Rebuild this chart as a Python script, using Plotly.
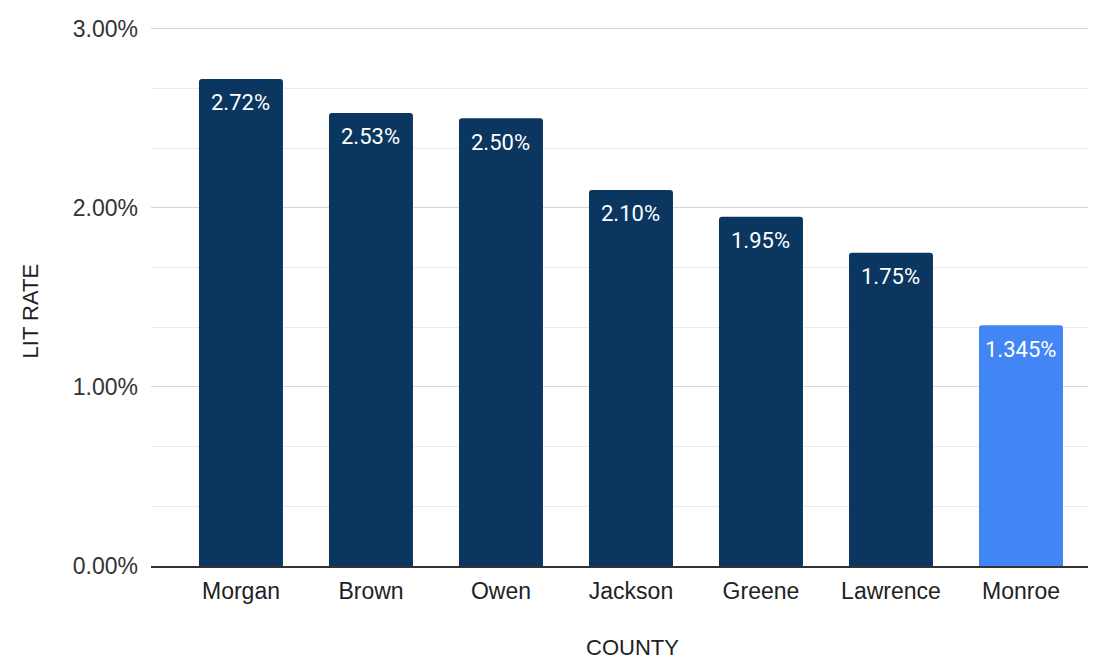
import plotly.graph_objects as go

counties = ["Morgan", "Brown", "Owen", "Jackson", "Greene", "Lawrence", "Monroe"]
lit_rate = [0.0272, 0.0253, 0.0250, 0.0210, 0.0195, 0.0175, 0.01345]
labels = ["2.72%", "2.53%", "2.50%", "2.10%", "1.95%", "1.75%", "1.345%"]
colors = ["#0b3660"] * 6 + ["#4285f4"]

# page body has an 8px margin; compensate so the picture lands like the reference
OFF = 8
W, H = 1096, 661
L, R, T, B = 151 - OFF, OFF, 24 - OFF, 661 - (566 - OFF)

fig = go.Figure(go.Bar(
    x=list(range(len(counties))),
    y=lit_rate,
    marker=dict(color=colors, line=dict(width=0), cornerradius=3),
    width=0.646,
    hoverinfo="skip",
))

for i, (v, lab) in enumerate(zip(lit_rate, labels)):
    fig.add_annotation(
        x=i, y=v, xref="x", yref="y",
        text=lab, showarrow=False,
        xanchor="center", yanchor="middle", yshift=-24,
        font=dict(family="Roboto", size=22, color="white"),
    )

fig.update_layout(
    width=W, height=H,
    margin=dict(l=L, r=R, t=T, b=B),
    paper_bgcolor="white", plot_bgcolor="white",
    showlegend=False,
    font=dict(family="Liberation Sans", size=23, color="#333333"),
)

fig.update_xaxes(
    range=[-0.692, 6.577],
    tickmode="array",
    tickvals=list(range(len(counties))),
    ticktext=counties,
    showgrid=False,
    showline=True, linecolor="#333333", linewidth=1.5,
    ticks="", ticklabelstandoff=4,
    tickfont=dict(family="Liberation Sans", size=23, color="#222222"),
    zeroline=False,
)

fig.update_yaxes(
    range=[0, 0.0301],
    tickmode="linear", tick0=0, dtick=0.01,
    tickformat=".2%",
    showgrid=True, gridcolor="#d6d6d6", gridwidth=1,
    minor=dict(dtick=0.01 / 3, tick0=0, showgrid=True, gridcolor="#ebebeb", gridwidth=1),
    zeroline=False,
    ticks="", ticklabelstandoff=12,
    tickfont=dict(family="Liberation Sans", size=23, color="#333333"),
)

plot_w = W - L - R
plot_h = H - T - B
fig.add_annotation(
    text="LIT RATE", textangle=-90,
    xref="paper", yref="paper",
    x=(30 - OFF - L) / plot_w, y=(566 - 310) / plot_h,
    xanchor="center", yanchor="middle",
    showarrow=False,
    font=dict(family="Liberation Sans", size=22, color="#222222"),
)
fig.add_annotation(
    text="COUNTY",
    xref="paper", yref="paper",
    x=(632 - OFF - L) / plot_w, y=-(648 - 566) / plot_h,
    xanchor="center", yanchor="middle",
    showarrow=False,
    font=dict(family="Liberation Sans", size=22, color="#222222"),
)

fig.write_html("out.html")
